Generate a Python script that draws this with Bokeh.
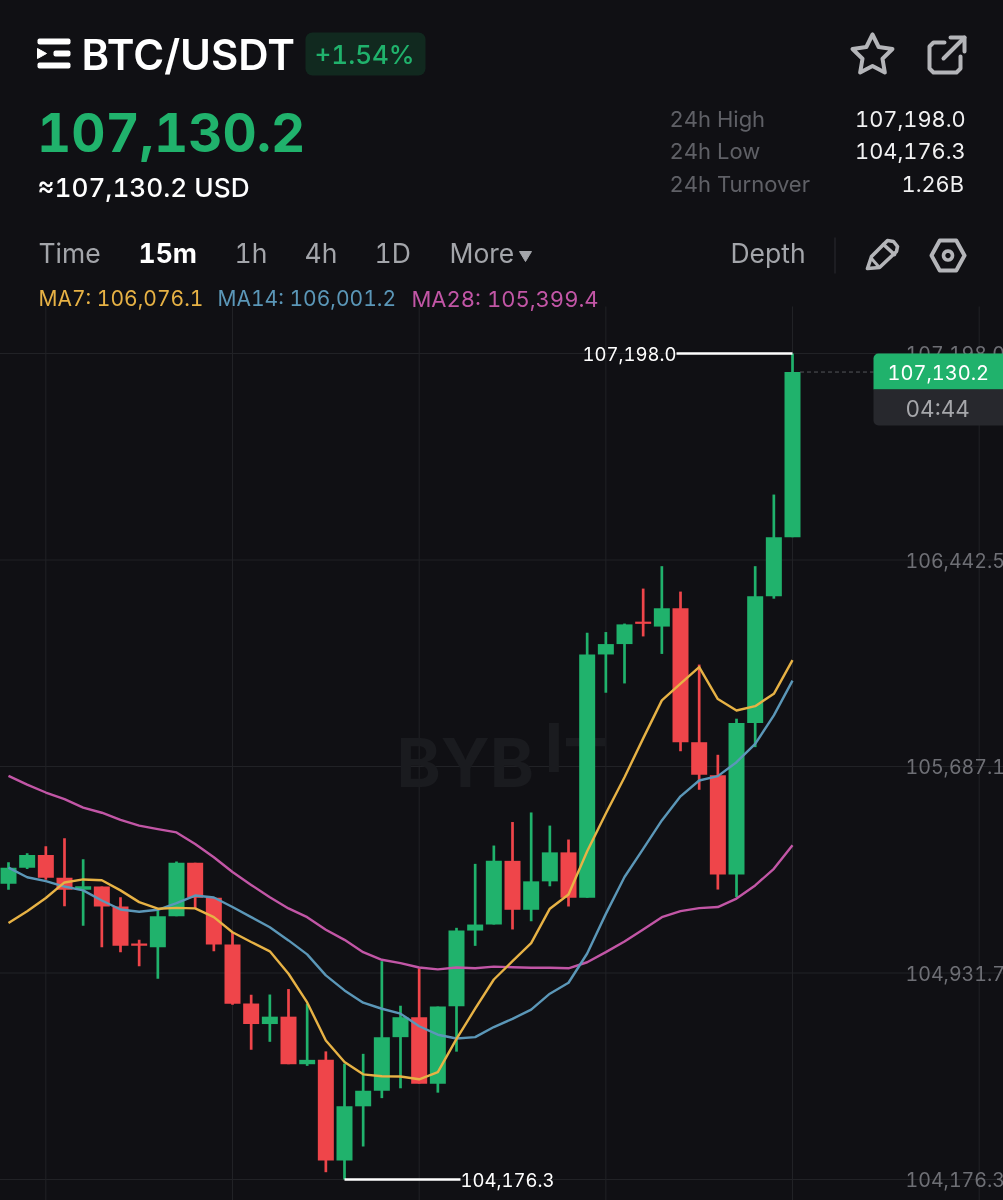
import math
from bokeh.plotting import figure
from bokeh.models import ColumnDataSource, Label, BoxAnnotation
from bokeh.core.properties import value
from bokeh.embed import file_html
from bokeh.resources import INLINE

opens = [105258,105317,105363,105280,105236,105248,105175,105040,105026,105139,
         105335,105207,105036,104820,104745,104772,104598,104614,104246,104444,
         104501,104697,104770,104527,104810,105087,105109,105342,105163,105267,
         105373,105207,106097,106135,106217,106199,106266,105776,105655,105292,
         105846,106310,106526]
highs = [105337,105370,105395,105425,105348,105248,105209,105053,105160,105340,
         105335,105209,105081,104852,104853,104873,104819,104645,104600,104636,
         104975,104812,104949,104809,105097,105331,105398,105484,105519,105471,
         105420,106176,106179,106210,106338,106420,106327,106060,105730,105862,
         106420,106682,107198.0]
lows = [105236,105312,105273,105176,105105,105026,105008,104956,104911,105139,
        105167,105011,104816,104651,104680,104598,104592,104203,104176.3,104297,
        104474,104510,104527,104494,104644,105031,105109,105091,105121,105249,
        105175,105207,105957,105991,106163,106099,105743,105602,105237,105209,
        105758,106301,106526]
closes = [105317,105363,105280,105236,105249,105175,105031,105031,105139,105335,
          105207,105036,104819,104745,104772,104598,104614,104246,104444,104501,
          104697,104770,104527,104809,105087,105109,105342,105163,105267,105373,
          105207,106097,106135,106207,106209,106266,105776,105657,105292,105846,
          106310,106526,107130.2]
ma7 = [105115,105158,105206,105263,105274,105271,105234,105191,105167,105170,
       105168,105136,105081,105045,105011,104929,104824,104685,104606,104561,
       104554,104553,104543,104569,104691,104801,104908,104975,105041,105167,
       105219,105377,105515,105648,105790,105929,105990,106051,105934,105892,
       105908,105953,106076.1]
ma14 = [105317,105282,105268,105248,105234,105197,105164,105156,105163,105187,
        105215,105208,105173,105136,105099,105051,105000,104923,104868,104823,
        104801,104783,104737,104706,104692,104697,104734,104764,104798,104856,
        104896,105003,105148,105283,105386,105490,105578,105636,105652,105703,
        105770,105874,106001.2]
ma28 = [105653,105621,105592,105568,105537,105518,105492,105471,105458,105446,
        105404,105355,105301,105254,105209,105168,105136,105090,105053,105008,
        104980,104968,104952,104945,104952,104949,104955,104953,104951,104951,
        104949,104971,105008,105047,105091,105136,105158,105169,105173,105204,
        105252,105313,105399.4]
tick_values = [107198.0, 106442.5, 105687.1, 104931.7, 104176.3]
tick_labels = ["107,198.0", "106,442.5", "105,687.1", "104,931.7", "104,176.3"]
grid_candles = [2, 12, 22, 32, 42, 52]
day_high = 107198.0
day_low = 104176.3
last_price = 107130.2

BG = "#101014"; GREEN = "#20b26c"; RED = "#ef454a"; GRID = "#212226"
YEL = "#e7b245"; BLU = "#5b97b8"; PNK = "#c256a6"; GREY = "#5f6066"; TAB = "#a3a5aa"; ICON = "#b4b5b9"
FONT = "Inter"
W, H = 1003, 1200
PX_X = 18.667       # pixels per candle
X0 = 8.0            # pixel of candle 0
PX_Y = 826 / (day_high - day_low)
Y0 = 353.0          # pixel of the day high

def X(px):
    return (px - X0) / PX_X

def Y(py):
    return day_high - (py - Y0) / PX_Y

p = figure(width=W + 2, height=H + 2, output_backend="svg", toolbar_location=None,
           x_range=(X(-1), X(W + 1)), y_range=(Y(H + 1), Y(-1)),
           x_axis_location=None, y_axis_location=None,
           min_border=0, min_border_left=0, min_border_right=0, min_border_top=0, min_border_bottom=0,
           background_fill_color=BG, border_fill_color=BG, outline_line_color=None)
p.styles = {"position": "fixed", "left": "-1px", "top": "-1px", "font-feature-settings": "'tnum'"}
p.grid.visible = False

# grid
for v in tick_values:
    p.segment(X(-1), v, X(W + 1), v, line_color=GRID, line_width=1)
p.segment(grid_candles, Y(306), grid_candles, Y(H + 1), line_color=GRID, line_width=1)

# watermark
p.text([X(396), X(544), X(563)], [Y(762), Y(747), Y(762)], text=["BYB", "I", "T"], text_color="#1a1b1f",
       text_font=value(FONT), text_font_size="67px", text_font_style="bold",
       text_align="left", text_baseline="middle")

# candles
n = len(closes)
idx = list(range(n))
colors = [GREEN if c >= o else RED for o, c in zip(opens, closes)]
src = ColumnDataSource(dict(x=idx, high=highs, low=lows, o=opens, c=closes, color=colors,
                            top=[max(a, b) for a, b in zip(opens, closes)],
                            bottom=[min(a, b) for a, b in zip(opens, closes)]))
p.segment("x", "high", "x", "low", source=src, line_color="color", line_width=2.7)
p.vbar("x", width=16 / PX_X, top="top", bottom="bottom", source=src, fill_color="color", line_color=None)

# moving averages
for vals, col in ((ma28, PNK), (ma14, BLU), (ma7, YEL)):
    p.line(idx, vals, line_color=col, line_width=2.4, line_join="round")

# tick labels
p.text([X(905)] * len(tick_values), tick_values, text=tick_labels, text_color="#6e6f75",
       text_font=value(FONT), text_font_size="19.6px", text_align="left", text_baseline="middle")

# high / low callouts
p.segment(X(676), day_high, n - 1, day_high, line_color="#ffffff", line_width=2.4)
p.segment(18, day_low, X(460), day_low, line_color="#ffffff", line_width=2.4)
p.text([X(582)], [day_high], text=["107,198.0"], text_color="#ffffff", text_font=value(FONT),
       text_font_size="18.5px", text_align="left", text_baseline="middle")
p.text([X(460)], [day_low], text=["104,176.3"], text_color="#ffffff", text_font=value(FONT),
       text_font_size="18.5px", text_align="left", text_baseline="middle")
p.segment(n - 0.6, last_price, X(873), last_price, line_color="#55565b", line_width=1, line_dash="4 3")

def box(x0, y0, x1, y1, col, r=0):
    p.add_layout(BoxAnnotation(left=X(x0), right=X(x1), top=Y(y0), bottom=Y(y1),
                               fill_color=col, fill_alpha=1, line_color=None, border_radius=r))

def txt(x, y, s, size, col, style="normal", font=FONT):
    p.add_layout(Label(x=X(x), y=Y(y), text=s, text_font=font, text_font_size=f"{size}px",
                       text_color=col, text_align="left", text_baseline="middle",
                       text_font_style=style))

def poly(pts, col, lw=3.6):
    p.line([X(a) for a, b in pts], [Y(b) for a, b in pts], line_color=col, line_width=lw,
           line_join="round", line_cap="round")

# price tag
box(873, 353, 1004, 389, GREEN, (5, 0, 0, 0))
box(873, 389, 1004, 425, "#27282d", (0, 0, 0, 5))
txt(887, 372, "107,130.2", 20, "#ffffff")
txt(905, 408, "04:44", 22.5, "#a6a7ab")

# header
box(37, 38, 70, 44, "#ffffff", 2); box(37, 62, 70, 68, "#ffffff", 2)
box(53, 50, 70, 56, "#ffffff", 2)
p.patch([X(37), X(46), X(37)], [Y(48), Y(53), Y(58)], color="#ffffff")
txt(81, 54, "BTC/USDT", 42, "#ffffff", font="Inter SemiBold")
box(305, 32, 425, 75, "#11291f", 7)
txt(314, 54, "+1.54%", 26, GREEN, font="Inter Medium")

star = []
for k in range(11):
    r = 21 if k % 2 == 0 else 10.5
    a = -math.pi / 2 + k * math.pi / 5
    star.append((872 + r * math.cos(a), 55 + r * math.sin(a)))
poly(star, ICON, 4)
poly([(944, 42), (933, 42), (929, 46), (929, 68), (933, 72), (956, 72), (960, 68), (960, 56)], ICON, 4)
poly([(943, 58), (964, 37)], ICON, 4); poly([(950, 37), (964, 37), (964, 51)], ICON, 4)

txt(36.5, 132, "107,130.2", 53, GREEN, style="bold")
txt(37, 187, "≈107,130.2 USD", 26.2, "#ffffff", font="Inter Medium")
for y, lab, val, vx in ((118, "24h High", "107,198.0", 854.5), (150, "24h Low", "104,176.3", 854.5), (183, "24h Turnover", "1.26B", 901)):
    txt(669, y, lab, 22, GREY)
    txt(vx, y, val, 21.8, "#f1f1f2")

for x, lab in ((38, "Time"), (234, "1h"), (304, "4h"), (374, "1D"), (449, "More"), (730, "Depth")):
    txt(x, 252, lab, 26.5, TAB)
txt(138, 252, "15m", 26.5, "#ffffff", style="bold")
p.patch([X(519), X(531), X(525)], [Y(251), Y(251), Y(261)], color=TAB)
box(834, 237, 835, 273, "#2a2b30")
poly([(867, 268), (871, 256), (887, 240), (893, 241), (897, 246), (896, 251), (879, 267), (867, 268)], ICON)
poly([(883, 244), (894, 254)], ICON)
poly([(871, 258), (878, 266)], ICON, 3)
hexa = [(947.5 + 16.5 * math.cos(math.pi / 3 * k), 255 + 15 * math.sin(math.pi / 3 * k) * 1.15) for k in range(7)]
poly(hexa, ICON, 4)
circ = [(947.5 + 4.5 * math.cos(k * math.pi / 10), 255 + 4.5 * math.sin(k * math.pi / 10)) for k in range(21)]
poly(circ, ICON, 3.6)

txt(38, 298, "MA7: 106,076.1", 21, YEL)
txt(217, 298, "MA14: 106,001.2", 21, BLU)
txt(411, 298, "MA28: 105,399.4", 22, PNK)

open("out.html", "w").write(file_html(p, INLINE))
